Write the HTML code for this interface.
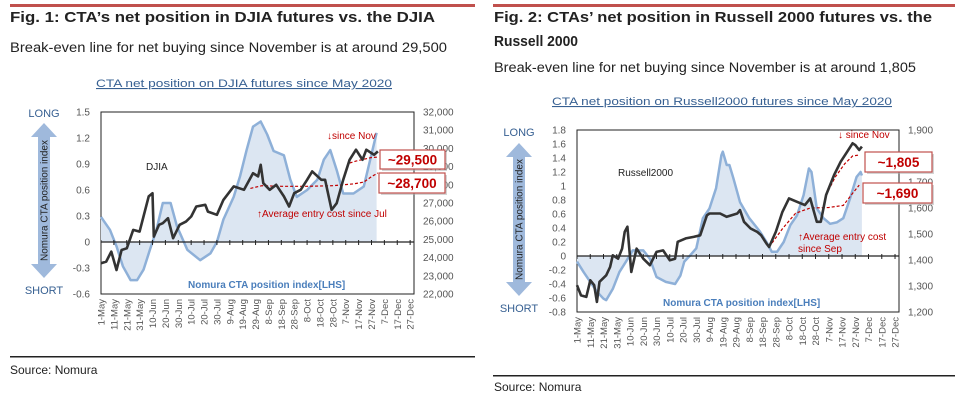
<!DOCTYPE html>
<html><head><meta charset="utf-8">
<style>
html,body{margin:0;padding:0;background:#fff;}
svg{display:block;font-family:"Liberation Sans",Arial,sans-serif;}
</style></head>
<body>
<svg id="root" width="956" height="401" viewBox="0 0 956 401" xmlns="http://www.w3.org/2000/svg">
  <!-- Header left -->
  <rect x="10" y="4" width="465" height="3" fill="#c0504d"/>
  <text x="10" y="22" font-size="15" font-weight="bold" fill="#222" textLength="425" lengthAdjust="spacingAndGlyphs">Fig. 1: CTA’s net position in DJIA futures vs. the DJIA</text>
  <text x="10" y="52" font-size="13.5" fill="#222" textLength="437" lengthAdjust="spacingAndGlyphs">Break-even line for net buying since November is at around 29,500</text>
  <text x="96" y="87" font-size="11" fill="#376092" text-decoration="underline" textLength="296" lengthAdjust="spacingAndGlyphs">CTA net position on DJIA futures since May 2020</text>
  <rect x="10" y="356" width="465" height="1.5" fill="#222"/>
  <text x="10" y="374" font-size="12" fill="#222">Source: Nomura</text>

  <!-- Header right -->
  <rect x="493" y="4" width="462" height="3" fill="#c0504d"/>
  <text x="494" y="22" font-size="15" font-weight="bold" fill="#222" textLength="438" lengthAdjust="spacingAndGlyphs">Fig. 2: CTAs’ net position in Russell 2000 futures vs. the</text>
  <text x="494" y="46" font-size="15" font-weight="bold" fill="#222" textLength="84" lengthAdjust="spacingAndGlyphs">Russell 2000</text>
  <text x="494" y="72" font-size="13.5" fill="#222" textLength="422" lengthAdjust="spacingAndGlyphs">Break-even line for net buying since November is at around 1,805</text>
  <text x="552" y="105" font-size="11" fill="#376092" text-decoration="underline" textLength="340" lengthAdjust="spacingAndGlyphs">CTA net position on Russell2000 futures since May 2020</text>
  <rect x="493" y="375" width="462" height="1.5" fill="#222"/>
  <text x="494" y="391" font-size="12" fill="#222">Source: Nomura</text>

  <g id="chart1"></g>
  <g id="chart2"></g>
</svg>
<script>
// ---------- shared category data ----------
const dateLabels = ["1-May","11-May","21-May","31-May","10-Jun","20-Jun","30-Jun","10-Jul","20-Jul","30-Jul","9-Aug","19-Aug","29-Aug","8-Sep","18-Sep","28-Sep","8-Oct","18-Oct","28-Oct","7-Nov","17-Nov","27-Nov","7-Dec","17-Dec","27-Dec"];
const dateTickDays = [0,10,20,30,40,50,60,70,80,90,100,110,120,130,140,150,160,170,180,190,200,210,220,230,240];

// ---------- Chart 1: DJIA ----------
const djiaLeftTicks = [1.5,1.2,0.9,0.6,0.3,0,-0.3,-0.6];
const djiaLeftTickLabels = ["1.5","1.2","0.9","0.6","0.3","0","-0.3","-0.6"];
const djiaRightTicks = [32000,31000,30000,29000,28000,27000,26000,25000,24000,23000,22000];
const djiaRightTickLabels = ["32,000","31,000","30,000","29,000","28,000","27,000","26,000","25,000","24,000","23,000","22,000"];
const djiaCtaDays = [0,7,12,17,23,28,33,38,43,48,54,59,67,77,85,90,95,103,108,113,118,124,129,134,142,147,152,160,168,173,178,183,188,196,204,209,214];
const djiaCtaValues = [0.29,0.14,-0.05,-0.28,-0.44,-0.44,-0.32,-0.09,0.14,0.45,0.45,0.18,-0.09,-0.21,-0.13,0.0,0.26,0.52,0.76,1.06,1.33,1.39,1.24,1.05,1.0,0.72,0.52,0.6,0.72,0.95,1.06,0.83,0.56,0.56,0.64,0.95,1.26];
const djiaIndexDays = [0,4,8,12,16,20,25,30,33,37,40,41,45,48,52,56,61,66,70,74,81,83,90,95,103,111,118,122,124,126,131,136,142,146,150,155,160,164,171,174,179,183,188,193,198,203,206,210,212,215];
const djiaIndexValues = [23690,23780,24330,23320,24420,24510,25520,25430,26260,27360,27540,25155,25800,25890,26165,25064,25800,25980,26260,26807,26900,26530,26350,27170,27910,27725,28640,28460,29100,28090,27725,28000,27360,26807,27540,27725,28275,28735,28275,28275,26620,26990,28275,29376,29926,29376,29926,29743,29650,29835];
const djiaAvgJulDays = [116,125,140,160,180,196,204,210,215];
const djiaAvgJulValues = [27800,27950,27920,27920,27950,28050,28150,28450,28650];
const djiaAvgNovDays = [193,198,204,210,215];
const djiaAvgNovValues = [29200,29300,29400,29500,29520];

// ---------- Chart 2: Russell ----------
const rutLeftTicks = [1.8,1.6,1.4,1.2,1,0.8,0.6,0.4,0.2,0,-0.2,-0.4,-0.6,-0.8];
const rutLeftTickLabels = ["1.8","1.6","1.4","1.2","1","0.8","0.6","0.4","0.2","0","-0.2","-0.4","-0.6","-0.8"];
const rutRightTicks = [1900,1800,1700,1600,1500,1400,1300,1200];
const rutRightTickLabels = ["1,900","1,800","1,700","1,600","1,500","1,400","1,300","1,200"];
const rutCtaDays = [0,5,10,15,20,22,27,32,37,42,50,55,60,67,74,78,81,85,90,95,100,105,109,110,113,115,118,123,130,138,143,147,151,156,161,166,171,175,177,181,186,191,196,201,206,211,214,215];
const rutCtaValues = [-0.08,-0.23,-0.37,-0.51,-0.61,-0.63,-0.47,-0.23,-0.08,0.08,0.08,-0.04,-0.3,-0.37,-0.4,-0.28,-0.08,0,0.11,0.54,0.68,0.97,1.44,1.49,1.3,1.3,1.11,0.77,0.54,0.35,0.2,0.06,0.06,0.2,0.44,0.58,0.87,1.25,1.2,0.68,0.54,0.46,0.48,0.54,0.82,1.13,1.2,1.15];
const rutIndexDays = [0,3,7,10,13,15,17,22,25,27,31,34,36,38,41,45,50,55,60,65,70,74,76,82,88,93,98,100,108,113,121,123,126,131,136,139,143,145,150,155,160,166,172,176,181,184,188,194,199,204,208,210,213,215];
const rutIndexValues = [1303,1264,1258,1322,1303,1239,1316,1341,1373,1418,1405,1444,1508,1528,1354,1444,1405,1380,1431,1437,1399,1405,1470,1483,1489,1495,1572,1579,1579,1566,1579,1592,1547,1521,1508,1495,1463,1450,1508,1585,1637,1624,1611,1637,1547,1547,1650,1727,1778,1817,1849,1842,1823,1836];
const rutAvgSepDays = [145,155,165,176,190,201,207,213];
const rutAvgSepValues = [1450,1520,1580,1600,1602,1610,1650,1688];
const rutAvgNovDays = [188,195,202,208,213];
const rutAvgNovValues = [1650,1720,1770,1800,1804];

const NS = "http://www.w3.org/2000/svg";
function mk(parent, tag, attrs, text) {
  const e = document.createElementNS(NS, tag);
  for (const k in attrs) e.setAttribute(k, attrs[k]);
  if (text !== undefined) e.textContent = text;
  parent.appendChild(e);
  return e;
}

function drawChart(g, cfg) {
  const xs = d => cfg.px0 + d * (cfg.px1 - cfg.px0) / cfg.dMax;
  const yl = v => cfg.py0 + (cfg.lMax - v) * (cfg.py1 - cfg.py0) / (cfg.lMax - cfg.lMin);
  const yr = v => cfg.py0 + (cfg.rMax - v) * (cfg.py1 - cfg.py0) / (cfg.rMax - cfg.rMin);

  // plot background / frame
  const frame = mk(g, "rect", {x: cfg.px0, y: cfg.py0, width: cfg.px1 - cfg.px0, height: cfg.py1 - cfg.py0, fill: "#fff", stroke: "#222", "stroke-width": 1});
  
  

  // CTA area
  const y0 = yl(0);
  let d = "M" + xs(cfg.ctaDays[0]) + "," + y0;
  let l = "";
  for (let i = 0; i < cfg.ctaDays.length; i++) {
    const p = xs(cfg.ctaDays[i]).toFixed(1) + "," + yl(cfg.ctaVals[i]).toFixed(1);
    d += " L" + p;
    l += (i ? " L" : "M") + p;
  }
  d += " L" + xs(cfg.ctaDays[cfg.ctaDays.length - 1]) + "," + y0 + " Z";
  const area = mk(g, "path", {d: d, fill: "#dce6f2", stroke: "none"});
  
  
  const cline = mk(g, "path", {d: l, fill: "none", stroke: "#8eb0d8", "stroke-width": 2.5, "stroke-linejoin": "round"});
  
  

  // zero axis + ticks
  const zero = mk(g, "line", {x1: cfg.px0, x2: cfg.px1, y1: y0, y2: y0, stroke: "#222", "stroke-width": 1.2});
  
  
  for (let i = 0; i < cfg.tickDays.length; i++) {
    const t = mk(g, "line", {x1: xs(cfg.tickDays[i]), x2: xs(cfg.tickDays[i]), y1: y0 - 2, y2: y0 + 3, stroke: "#222", "stroke-width": 1});
    
    
    const tx = xs(cfg.tickDays[i]) + 3.5, ty = cfg.py1 + 5;
    const lab = mk(g, "text", {x: tx, y: ty, "font-size": 9.5, fill: "#555", "text-anchor": "end", transform: "rotate(-90 " + tx + " " + ty + ")"}, cfg.tickLabels[i]);
    
    
  }

  // avg entry dashed lines
  [[cfg.avg1Days, cfg.avg1Vals], [cfg.avg2Days, cfg.avg2Vals]].forEach(function (s, k) {
    let p = "";
    for (let i = 0; i < s[0].length; i++) p += (i ? " L" : "M") + xs(s[0][i]).toFixed(1) + "," + yr(s[1][i]).toFixed(1);
    const dl = mk(g, "path", {d: p, fill: "none", stroke: "#c00000", "stroke-width": 1.2, "stroke-dasharray": "3,2"});
    
    
  });

  // index line
  let ip = "";
  for (let i = 0; i < cfg.idxDays.length; i++) ip += (i ? " L" : "M") + xs(cfg.idxDays[i]).toFixed(1) + "," + yr(cfg.idxVals[i]).toFixed(1);
  const il = mk(g, "path", {d: ip, fill: "none", stroke: "#333", "stroke-width": 2.6, "stroke-linejoin": "round"});
  
  

  // left axis labels
  for (let i = 0; i < cfg.lTicks.length; i++) {
    const t = mk(g, "text", {x: cfg.lLabX, y: yl(cfg.lTicks[i]) + 3.5, "font-size": 10, fill: "#555", "text-anchor": "end"}, cfg.lTickLabels[i]);
    
    
  }
  // right axis labels
  for (let i = 0; i < cfg.rTicks.length; i++) {
    const t = mk(g, "text", {x: cfg.rLabX, y: yr(cfg.rTicks[i]) + 3.5, "font-size": 10, fill: "#555"}, cfg.rTickLabels[i]);
    
    
  }

  // callout boxes
  cfg.boxes.forEach(function (b) {
    const sh = mk(g, "rect", {x: b.x + 2, y: b.y + 2, width: b.w, height: b.h, fill: "#aaa", opacity: 0.5});
    
    
    const r = mk(g, "rect", {x: b.x, y: b.y, width: b.w, height: b.h, fill: "#fff", stroke: "#c0504d", "stroke-width": 1.2});
    
    
    const t = mk(g, "text", {x: b.x + b.w / 2, y: b.y + b.h / 2 + 5, "font-size": 13.5, "font-weight": "bold", fill: "#c00000", "text-anchor": "middle"}, b.text);
    
    
  });

  // arrow + LONG/SHORT
  const ax = cfg.arrowX, a0 = cfg.arrowY0, a1 = cfg.arrowY1;
  const arr = mk(g, "path", {d: "M" + ax + "," + a0 + " L" + (ax + 13) + "," + (a0 + 14) + " L" + (ax + 6) + "," + (a0 + 14) + " L" + (ax + 6) + "," + (a1 - 14) + " L" + (ax + 13) + "," + (a1 - 14) + " L" + ax + "," + a1 + " L" + (ax - 13) + "," + (a1 - 14) + " L" + (ax - 6) + "," + (a1 - 14) + " L" + (ax - 6) + "," + (a0 + 14) + " L" + (ax - 13) + "," + (a0 + 14) + " Z", fill: "#9fb9dc"});
  
  
  const cy = (a0 + a1) / 2;
  const vt = mk(g, "text", {x: ax + 3.5, y: cy, "font-size": 10, fill: "#222", "text-anchor": "middle", transform: "rotate(-90 " + (ax + 3.5) + " " + cy + ")"}, "Nomura CTA position index");
  
  
  const lg = mk(g, "text", {x: ax, y: cfg.longY, "font-size": 11, fill: "#376092", "text-anchor": "middle"}, "LONG");
  
  
  const st = mk(g, "text", {x: ax, y: cfg.shortY, "font-size": 11, fill: "#376092", "text-anchor": "middle"}, "SHORT");
  
  

  // annotations
  cfg.notes.forEach(function (n) {
    const t = mk(g, "text", {x: n.x, y: n.y, "font-size": n.fs || 10, fill: n.c, "font-weight": n.b ? "bold" : "normal"}, n.t);
    
    
  });
}

drawChart(document.getElementById("chart1"), {
  px0: 101, px1: 414, py0: 112, py1: 294, dMax: 243,
  lMax: 1.5, lMin: -0.6, rMax: 32000, rMin: 22000,
  tickDays: dateTickDays, tickLabels: dateLabels,
  ctaDays: djiaCtaDays, ctaVals: djiaCtaValues,
  idxDays: djiaIndexDays, idxVals: djiaIndexValues,
  avg1Days: djiaAvgJulDays, avg1Vals: djiaAvgJulValues,
  avg2Days: djiaAvgNovDays, avg2Vals: djiaAvgNovValues,
  lTicks: djiaLeftTicks, lTickLabels: djiaLeftTickLabels, lLabX: 90,
  rTicks: djiaRightTicks, rTickLabels: djiaRightTickLabels, rLabX: 423,
  boxes: [{x: 380, y: 150, w: 65, h: 19, text: "~29,500"}, {x: 379, y: 173, w: 66, h: 20, text: "~28,700"}],
  arrowX: 44, arrowY0: 123, arrowY1: 278, longY: 117, shortY: 294,
  notes: [
    {x: 146, y: 170, t: "DJIA", c: "#222", name: "djia-series-label"},
    {x: 327, y: 139, t: "↓since Nov", c: "#c00000", name: "since-nov-note"},
    {x: 257, y: 217, t: "↑Average entry cost since Jul", c: "#c00000", name: "avg-entry-note"},
    {x: 188, y: 288, t: "Nomura CTA position index[LHS]", c: "#4a7ebb", b: true, name: "cta-series-label"}
  ]
});

drawChart(document.getElementById("chart2"), {
  px0: 577, px1: 899, py0: 130, py1: 312, dMax: 243,
  lMax: 1.8, lMin: -0.8, rMax: 1900, rMin: 1200,
  tickDays: dateTickDays, tickLabels: dateLabels,
  ctaDays: rutCtaDays, ctaVals: rutCtaValues,
  idxDays: rutIndexDays, idxVals: rutIndexValues,
  avg1Days: rutAvgSepDays, avg1Vals: rutAvgSepValues,
  avg2Days: rutAvgNovDays, avg2Vals: rutAvgNovValues,
  lTicks: rutLeftTicks, lTickLabels: rutLeftTickLabels, lLabX: 566,
  rTicks: rutRightTicks, rTickLabels: rutRightTickLabels, rLabX: 908,
  boxes: [{x: 865, y: 152, w: 67, h: 20, text: "~1,805"}, {x: 863, y: 183, w: 69, h: 20, text: "~1,690"}],
  arrowX: 519, arrowY0: 143, arrowY1: 296, longY: 136, shortY: 312,
  notes: [
    {x: 618, y: 176, t: "Russell2000", c: "#222", name: "russell-series-label"},
    {x: 838, y: 138, t: "↓ since Nov", c: "#c00000", name: "since-nov-note"},
    {x: 798, y: 240, t: "↑Average entry cost", c: "#c00000", name: "avg-entry-note"},
    {x: 798, y: 252, t: "since Sep", c: "#c00000", name: "avg-entry-note-line2"},
    {x: 663, y: 306, t: "Nomura CTA position index[LHS]", c: "#4a7ebb", b: true, name: "cta-series-label"}
  ]
});
</script>
</body></html>
